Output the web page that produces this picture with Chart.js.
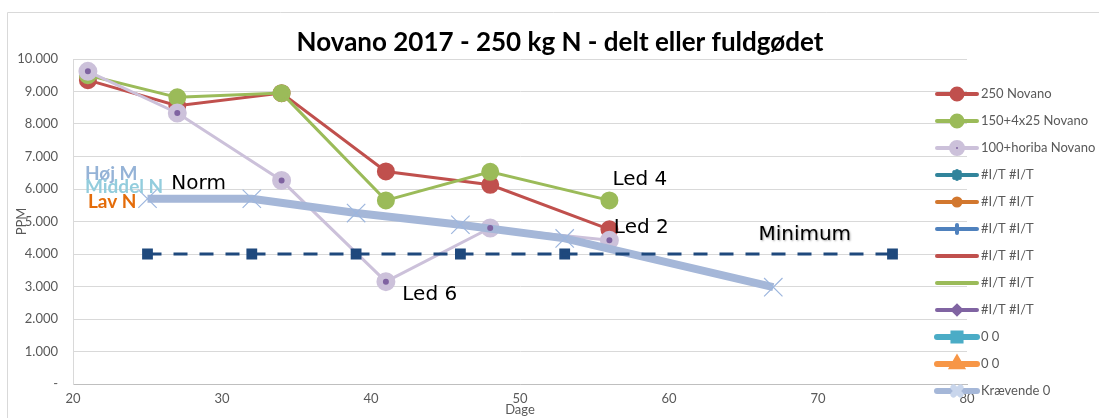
<!DOCTYPE html>
<html>
<head>
<meta charset="utf-8">
<script src="https://cdn.jsdelivr.net/npm/chart.js@4/dist/chart.umd.min.js"></script>
<style>
  html, body { margin: 0; padding: 0; background: #fff; }
  #wrap { width: 1099px; height: 418px; }
</style>
</head>
<body>
<div id="wrap"><canvas id="chart"></canvas></div>
<script>
// values (PPM)
const days = [21, 27, 34, 41, 48, 56];
const novano250 = [9350, 8560, 8950, 6540, 6130, 4760];
const novano150 = [9500, 8820, 8950, 5650, 6530, 5650];
const novano100 = [9620, 8340, 6260, 3150, 4800, 4420];
const minDays = [25, 32, 39, 46, 53, 75];
const minimum = [4000, 4000, 4000, 4000, 4000, 4000];
const normDays = [25, 32, 39, 46, 53, 67];
const kraevende = [5700, 5700, 5260, 4900, 4480, 2980];
const xTicks = [20, 30, 40, 50, 60, 70, 80];
const yTicks = [0, 1000, 2000, 3000, 4000, 5000, 6000, 7000, 8000, 9000, 10000];

const title = 'Novano 2017 - 250 kg N - delt eller fuldgødet';
const legendNames = ['250 Novano', '150+4x25 Novano', '100+horiba Novano', '#I/T #I/T', '#I/T #I/T', '#I/T #I/T',
                     '#I/T #I/T', '#I/T #I/T', '#I/T #I/T', '0 0', '0 0', 'Krævende 0'];
const notes = [
    {text: 'Høj M', x: 20.8, y: 6460, color: '#95B3D7', font: 'bold 19px Lato'},
    {text: 'Middel N', x: 20.8, y: 6060, color: '#93CDDD', font: 'bold 19px Lato'},
    {text: 'Lav N', x: 21.0, y: 5600, color: '#E46C0A', font: 'bold 19px Lato'},
    {text: 'Norm', x: 26.6, y: 6150, color: '#000', font: '20px "DejaVu Sans"'},
    {text: 'Led 4', x: 56.2, y: 6280, color: '#000', font: '20px "DejaVu Sans"'},
    {text: 'Led 2', x: 56.3, y: 4800, color: '#000', font: '20px "DejaVu Sans"'},
    {text: 'Led 6', x: 42.1, y: 2740, color: '#000', font: '20px "DejaVu Sans"'},
    {text: 'Minimum', x: 66.0, y: 4600, color: '#000', font: '20px "DejaVu Sans"', shadow: true}
];

function points(xs, ys) {
    return xs.map((x, i) => ({x: x, y: ys[i]}));
}

function series(label, color, extra) {
    return Object.assign({
        label: label,
        data: [],
        showLine: true,
        borderColor: color,
        backgroundColor: color,
        pointBackgroundColor: color,
        pointBorderColor: color,
        borderWidth: 3,
        pointRadius: 0,
        pointStyle: false,
        legendRadius: 4,
        legendWidth: 4
    }, extra || {});
}

const datasets = [
    series('250 Novano', '#C0504D', {data: points(days, novano250), pointStyle: 'circle', pointRadius: 7.5, order: 5, legendRadius: 5.5}),
    series('150+4x25 Novano', '#9BBB59', {data: points(days, novano150), pointStyle: 'circle', pointRadius: 7.5, order: 4, legendRadius: 5.5}),
    series('100+horiba Novano', '#CCC1DA', {data: points(days, novano100), pointStyle: 'circle', pointRadius: 8, order: 3, legendRadius: 6, dot: '#7F63A1'}),
    series('#I/T #I/T', '#31849B', {pointStyle: 'star', legendRadius: 4}),
    series('#I/T #I/T', '#D2772E', {pointStyle: 'circle', legendRadius: 3.5}),
    series('#I/T #I/T', '#4F81BD', {pointStyle: 'line', pointRotation: 90, legendRadius: 4}),
    series('#I/T #I/T', '#C0504D'),
    series('#I/T #I/T', '#9BBB59'),
    series('#I/T #I/T', '#8064A2', {pointStyle: 'rectRot', legendRadius: 4}),
    series('0 0', '#4BACC6', {pointStyle: 'rect', legendRadius: 5, legendWidth: 6}),
    series('0 0', '#F79646', {pointStyle: 'triangle', legendRadius: 4.5, legendWidth: 6}),
    series('Krævende 0', '#A5B7D8', {data: points(normDays, kraevende), borderWidth: 8, pointStyle: 'crossRot', pointRadius: 13,
                                     pointBorderColor: '#9DB6DE', pointBorderWidth: 1.2, order: 2, legendRadius: 5, legendWidth: 6,
                                     legendPointColor: '#C9D6EC'}),
    // centre dot of the lilac markers
    series('dot', '#7F63A1', {data: points(days, novano100), showLine: false, pointStyle: 'circle', pointRadius: 1.5, order: 1, noLegend: true}),
    series('Minimum', '#1F497D', {data: points(minDays, minimum), borderDash: [14, 12], pointStyle: 'rect', pointRadius: 5.5, order: 0, noLegend: true})
];

const decorations = {
    id: 'decorations',
    beforeDraw(chart) {
        const ctx = chart.ctx;
        ctx.save();
        ctx.strokeStyle = '#D9D9D9';
        ctx.lineWidth = 1;
        ctx.beginPath();
        ctx.moveTo(7.5, 418);
        ctx.lineTo(7.5, 12.5);
        ctx.lineTo(1099, 12.5);
        ctx.stroke();
        ctx.restore();
    },
    afterDatasetsDraw(chart) {
        const ctx = chart.ctx;
        const xs = chart.scales.x;
        const ys = chart.scales.y;
        ctx.save();
        ctx.textBaseline = 'middle';
        ctx.textAlign = 'left';
        notes.forEach(n => {
            ctx.font = n.font;
            ctx.fillStyle = n.color;
            if (n.shadow) {
                ctx.shadowColor = 'rgba(0,0,0,0.35)';
                ctx.shadowBlur = 2;
                ctx.shadowOffsetX = 1;
                ctx.shadowOffsetY = 1;
            } else {
                ctx.shadowColor = 'transparent';
            }
            ctx.fillText(n.text, xs.getPixelForValue(n.x), ys.getPixelForValue(n.y));
        });
        ctx.restore();
    },
    afterDraw(chart) {
        const ctx = chart.ctx;
        ctx.save();
        // title
        ctx.font = 'bold 26px Lato';
        ctx.fillStyle = '#000';
        ctx.textAlign = 'center';
        ctx.textBaseline = 'middle';
        ctx.fillText(title, 560, 43);
        // legend
        const items = chart.data.datasets.filter(ds => !ds.noLegend);
        items.forEach((ds, i) => {
            const y = 94 + i * 27;
            ctx.strokeStyle = ds.borderColor;
            ctx.lineWidth = ds.legendWidth;
            ctx.lineCap = 'round';
            ctx.beginPath();
            ctx.moveTo(937, y);
            ctx.lineTo(977, y);
            ctx.stroke();
            if (ds.pointStyle) {
                ctx.fillStyle = ds.legendPointColor || ds.pointBackgroundColor;
                ctx.strokeStyle = ds.legendPointColor || ds.pointBorderColor;
                Chart.helpers.drawPoint(ctx, {pointStyle: ds.pointStyle, radius: ds.legendRadius, rotation: ds.pointRotation || 0,
                                              borderWidth: ds.pointStyle === 'star' || ds.pointStyle === 'line' ? 1.5 : 1}, 957, y);
                if (ds.dot) {
                    ctx.fillStyle = ds.dot;
                    Chart.helpers.drawPoint(ctx, {pointStyle: 'circle', radius: 1, rotation: 0, borderWidth: 0}, 957, y);
                }
            }
            ctx.font = '13px Lato';
            ctx.fillStyle = '#595959';
            ctx.textAlign = 'left';
            ctx.fillText(legendNames[i], 981, y);
        });
        ctx.restore();
    }
};

new Chart(document.getElementById('chart'), {
    type: 'scatter',
    data: {datasets: datasets},
    options: {
        responsive: true,
        maintainAspectRatio: false,
        animation: false,
        layout: {padding: {left: 14, top: 59, right: 132, bottom: 0}},
        plugins: {
            legend: {display: false},
            title: {display: false},
            tooltip: {enabled: false}
        },
        scales: {
            x: {
                type: 'linear',
                min: 20,
                max: 80,
                afterBuildTicks: scale => { scale.ticks = xTicks.map(v => ({value: v})); },
                grid: {display: false, drawTicks: false},
                border: {display: true, color: '#BFBFBF', width: 1},
                ticks: {color: '#595959', font: {family: 'Lato', size: 13}, padding: 7},
                title: {display: true, text: 'Dage', color: '#595959', font: {family: 'Lato', size: 13}, padding: 0},
                afterFit: scale => { scale.height = 34; }
            },
            y: {
                min: 0,
                max: 10000,
                afterBuildTicks: scale => { scale.ticks = yTicks.map(v => ({value: v})); },
                grid: {color: '#D9D9D9', drawTicks: false},
                border: {display: true, color: '#D9D9D9', width: 1},
                ticks: {color: '#595959', font: {family: 'Lato', size: 13}, padding: 15,
                        callback: v => v === 0 ? '-' : (v / 1000) + '.000'},
                title: {display: true, text: 'PPM', color: '#595959', font: {family: 'Lato', size: 13}, padding: 0},
                afterFit: scale => { scale.width = 59; }
            }
        }
    },
    plugins: [decorations]
});
</script>
</body>
</html>
